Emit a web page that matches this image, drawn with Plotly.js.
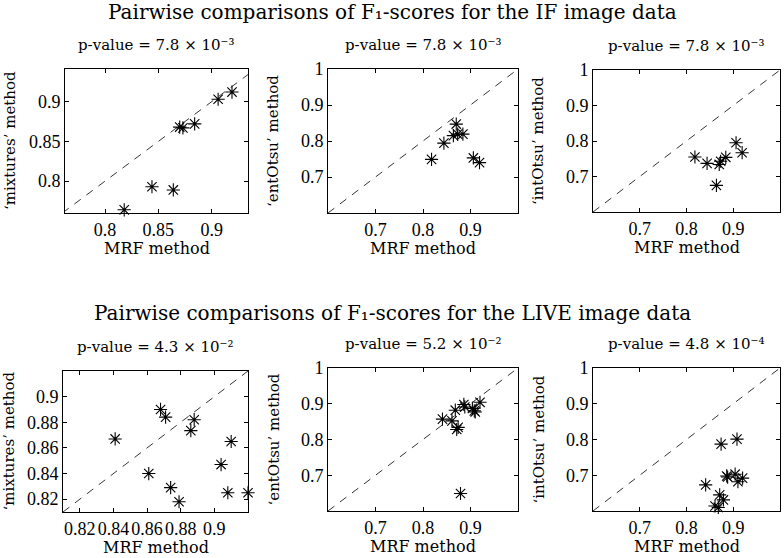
<!DOCTYPE html>
<html>
<head>
<meta charset="utf-8">
<script src="https://cdn.plot.ly/plotly-3.0.1.min.js"></script>
<style>
  html, body { margin: 0; padding: 0; background: #fff; }
  #chart { width: 784px; height: 558px; }
</style>
</head>
<body>
<div id="chart"></div>
<script>
// ====== data ======
const mrfIF = [0.818, 0.844, 0.864, 0.870, 0.873, 0.884, 0.906, 0.919];
const mixturesIF = [0.764, 0.793, 0.789, 0.868, 0.867, 0.872, 0.903, 0.912];
const entOtsuIF = [0.749, 0.794, 0.815, 0.847, 0.819, 0.819, 0.753, 0.740];
const intOtsuIF = [0.755, 0.737, 0.675, 0.734, 0.743, 0.754, 0.795, 0.767];

const mrfLIVE = [0.841, 0.861, 0.868, 0.871, 0.874, 0.879, 0.886, 0.888, 0.904, 0.908, 0.910, 0.920];
const mixturesLIVE = [0.867, 0.840, 0.890, 0.884, 0.829, 0.818, 0.8735, 0.882, 0.847, 0.825, 0.865, 0.825];
const entOtsuLIVE = [0.857, 0.852, 0.882, 0.828, 0.834, 0.649, 0.898, 0.891, 0.887, 0.880, 0.877, 0.904];
const intOtsuLIVE = [0.673, 0.614, 0.610, 0.645, 0.787, 0.631, 0.698, 0.695, 0.703, 0.801, 0.682, 0.692];

// superscripts as unicode characters so each label stays a single text run
const pValues = ["7.8 × 10⁻³", "7.8 × 10⁻³", "7.8 × 10⁻³",
                 "4.3 × 10⁻²", "5.2 × 10⁻²", "4.8 × 10⁻⁴"];
const yNames = ["‘mixtures’ method", "‘entOtsu’ method", "‘intOtsu’ method"];
const groupTitles = ["Pairwise comparisons of F₁-scores for the IF image data",
                     "Pairwise comparisons of F₁-scores for the LIVE image data"];

const ticksIFmix = [0.8, 0.85, 0.9];
const ticksWide = [0.7, 0.8, 0.9, 1];
const ticksLIVEmix = [0.82, 0.84, 0.86, 0.88, 0.9];

// ====== panel setup ======
const W = 784, H = 558;
const TEXT_FONT = "'DejaVu Serif', serif";
const NUM_FONT = "'Liberation Serif', serif";

const panels = [
  { x: mrfIF, y: mixturesIF, box: [65, 248, 69, 213], xr: [0.7625, 0.934], yr: [0.76, 0.941], xt: ticksIFmix, yt: ticksIFmix },
  { x: mrfIF, y: entOtsuIF, box: [328, 518, 69, 213], xr: [0.6, 1], yr: [0.6, 1], xt: ticksWide.slice(0, 3), yt: ticksWide },
  { x: mrfIF, y: intOtsuIF, box: [593, 780, 70, 212], xr: [0.6, 1], yr: [0.6, 1], xt: ticksWide.slice(0, 3), yt: ticksWide },
  { x: mrfLIVE, y: mixturesLIVE, box: [63, 248, 371, 512], xr: [0.81, 0.92], yr: [0.81, 0.92], xt: ticksLIVEmix, yt: ticksLIVEmix },
  { x: mrfLIVE, y: entOtsuLIVE, box: [328, 518, 368, 511], xr: [0.6, 1], yr: [0.6, 1], xt: ticksWide.slice(0, 3), yt: ticksWide },
  { x: mrfLIVE, y: intOtsuLIVE, box: [593, 780, 368, 511], xr: [0.6, 1], yr: [0.6, 1], xt: ticksWide.slice(0, 3), yt: ticksWide }
];

const data = [];
const layout = {
  width: W,
  height: H,
  margin: { l: 0, r: 0, t: 0, b: 0 },
  paper_bgcolor: "#fff",
  plot_bgcolor: "#fff",
  showlegend: false,
  font: { family: TEXT_FONT, size: 15, color: "#000" },
  annotations: []
};

const fmt = (v) => String(v);

panels.forEach((p, i) => {
  const n = i + 1;
  const xa = "xaxis" + (n === 1 ? "" : n);
  const ya = "yaxis" + (n === 1 ? "" : n);
  const xref = "x" + (n === 1 ? "" : n);
  const yref = "y" + (n === 1 ? "" : n);
  const [l, r, t, b] = p.box;

  const axisBase = {
    showgrid: false,
    zeroline: false,
    showline: true,
    linecolor: "#000",
    linewidth: 1,
    mirror: "ticks",
    ticks: "inside",
    ticklen: 4,
    tickwidth: 1,
    tickcolor: "#000",
    tickfont: { family: NUM_FONT, size: 18, color: "#000" },
    fixedrange: true
  };

  layout[xa] = Object.assign({}, axisBase, {
    domain: [l / W, r / W],
    range: p.xr,
    tickvals: p.xt,
    ticktext: p.xt.map(fmt),
    anchor: yref
  });
  layout[ya] = Object.assign({}, axisBase, {
    domain: [1 - b / H, 1 - t / H],
    range: p.yr,
    tickvals: p.yt,
    ticktext: p.yt.map(fmt),
    anchor: xref
  });

  // y = x reference line, spanning the axis range
  const lo = Math.min(p.xr[0], p.yr[0]);
  const hi = Math.max(p.xr[1], p.yr[1]);
  data.push({
    type: "scatter",
    mode: "lines",
    x: [lo, hi],
    y: [lo, hi],
    xaxis: xref,
    yaxis: yref,
    line: { color: "#000", width: 0.8, dash: "8px,7px" },
    hoverinfo: "skip"
  });

  data.push({
    type: "scatter",
    mode: "markers",
    x: p.x,
    y: p.y,
    xaxis: xref,
    yaxis: yref,
    cliponaxis: false,
    marker: {
      symbol: "asterisk-open",
      size: 11,
      color: "#000",
      line: { color: "#000", width: 1.1 }
    }
  });

  const cx = (l + r) / 2 / W;
  // p-value title
  layout.annotations.push({
    xref: "paper", yref: "paper",
    x: cx, y: 1 - (t - 24) / H,
    xanchor: "center", yanchor: "middle",
    text: "p-value = " + pValues[i],
    showarrow: false,
    font: { family: TEXT_FONT, size: 15 }
  });
  // x label
  layout.annotations.push({
    xref: "paper", yref: "paper",
    x: cx, y: 1 - (b + 35) / H,
    xanchor: "center", yanchor: "middle",
    text: "MRF method",
    showarrow: false,
    font: { family: TEXT_FONT, size: 16 }
  });
  // y label
  layout.annotations.push({
    xref: "paper", yref: "paper",
    x: (l - 55) / W, y: 1 - (t + b) / 2 / H,
    xanchor: "center", yanchor: "middle",
    text: yNames[i % 3],
    textangle: -90,
    showarrow: false,
    font: { family: TEXT_FONT, size: 15 }
  });
});

// group titles
[12, 313].forEach((py, k) => {
  layout.annotations.push({
    xref: "paper", yref: "paper",
    x: 0.5, y: 1 - py / H,
    xanchor: "center", yanchor: "middle",
    text: groupTitles[k],
    showarrow: false,
    font: { family: TEXT_FONT, size: 20 }
  });
});

Plotly.newPlot("chart", data, layout, { displayModeBar: false, staticPlot: true });
</script>
</body>
</html>
